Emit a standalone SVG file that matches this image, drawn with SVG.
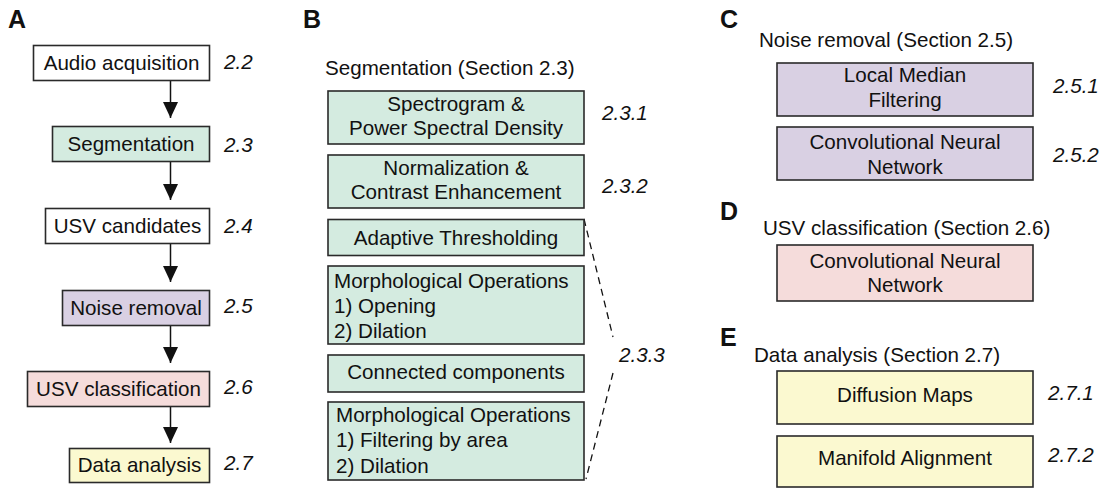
<svg xmlns="http://www.w3.org/2000/svg" width="1103" height="489" viewBox="0 0 1103 489">
  <style>
    text { font-family: "Liberation Sans", Arial, sans-serif; fill: #111; }
    .panel { font-size: 25px; font-weight: bold; }
    .lbl { font-size: 20.6px; }
    .mid { text-anchor: middle; }
    .sec { font-size: 20.6px; font-style: italic; }
    .box { stroke: #2a2a2a; stroke-width: 1.6; }
    .white { fill: #ffffff; }
    .green { fill: #d4ebe0; }
    .purple { fill: #d9d0e3; }
    .pink { fill: #f5dcdb; }
    .yellow { fill: #fbf9d0; }
    .flow { stroke: #111; stroke-width: 1.5; fill: none; }
    .dash { stroke: #111; stroke-width: 1.3; stroke-dasharray: 7 5; fill: none; }
  </style>
  <defs>
    <marker id="arrow" viewBox="0 0 16 15" refX="16" refY="7.5" markerWidth="16" markerHeight="15" markerUnits="userSpaceOnUse" orient="auto">
      <path d="M0,0 L16,7.5 L0,15 Z" fill="#111"/>
    </marker>
  </defs>

  <rect width="1103" height="489" fill="#ffffff"/>

  <!-- Panel labels -->
  <text class="panel" x="8" y="28">A</text>
  <text class="panel" x="303" y="28">B</text>
  <text class="panel" x="720" y="28">C</text>
  <text class="panel" x="720" y="220">D</text>
  <text class="panel" x="720" y="346">E</text>

  <!-- Panel A: pipeline overview -->
  <g id="connectors">
    <line class="flow" x1="170.5" y1="80" x2="170.5" y2="118" marker-end="url(#arrow)"/>
    <line class="flow" x1="170.5" y1="161" x2="170.5" y2="200" marker-end="url(#arrow)"/>
    <line class="flow" x1="170.5" y1="244" x2="170.5" y2="282" marker-end="url(#arrow)"/>
    <line class="flow" x1="170.5" y1="325" x2="170.5" y2="363" marker-end="url(#arrow)"/>
    <line class="flow" x1="170.5" y1="406" x2="170.5" y2="443" marker-end="url(#arrow)"/>
    <!-- bracket for 2.3.3 -->
    <polyline class="dash" points="584,219 613,337"/>
    <polyline class="dash" points="613,373 586,479"/>
  </g>

  <g id="a-audio">
    <rect class="box white" x="33.5" y="45.5" width="176" height="35"/>
    <text class="lbl mid" x="121.5" y="70">Audio acquisition</text>
    <text class="sec" x="224" y="69">2.2</text>
  </g>
  <g id="a-segmentation">
    <rect class="box green" x="52.5" y="126.5" width="157" height="35"/>
    <text class="lbl mid" x="131" y="151">Segmentation</text>
    <text class="sec" x="224" y="152">2.3</text>
  </g>
  <g id="a-candidates">
    <rect class="box white" x="45.5" y="208.5" width="164" height="35"/>
    <text class="lbl mid" x="127.5" y="233">USV candidates</text>
    <text class="sec" x="224" y="233">2.4</text>
  </g>
  <g id="a-noise">
    <rect class="box purple" x="62.5" y="290.5" width="147" height="35"/>
    <text class="lbl mid" x="136" y="315">Noise removal</text>
    <text class="sec" x="224" y="313">2.5</text>
  </g>
  <g id="a-classification">
    <rect class="box pink" x="27.5" y="371.5" width="182" height="35"/>
    <text class="lbl mid" x="118.5" y="396">USV classification</text>
    <text class="sec" x="224" y="394">2.6</text>
  </g>
  <g id="a-analysis">
    <rect class="box yellow" x="69.5" y="448.5" width="140" height="34"/>
    <text class="lbl mid" x="139.5" y="472">Data analysis</text>
    <text class="sec" x="224" y="470">2.7</text>
  </g>

  <!-- Panel B: segmentation steps -->
  <text class="lbl" x="325" y="75">Segmentation (Section 2.3)</text>
  <g id="b-spectrogram">
    <rect class="box green" x="328" y="91" width="256" height="53"/>
    <text class="lbl mid" x="456" y="111">Spectrogram &amp;</text>
    <text class="lbl mid" x="456" y="135">Power Spectral Density</text>
    <text class="sec" x="602" y="120">2.3.1</text>
  </g>
  <g id="b-normalization">
    <rect class="box green" x="328" y="155" width="256" height="53"/>
    <text class="lbl mid" x="456" y="175">Normalization &amp;</text>
    <text class="lbl mid" x="456" y="199">Contrast Enhancement</text>
    <text class="sec" x="602" y="193">2.3.2</text>
  </g>
  <g id="b-threshold">
    <rect class="box green" x="328" y="219.5" width="256" height="36"/>
    <text class="lbl mid" x="456" y="245">Adaptive Thresholding</text>
  </g>
  <g id="b-morph1">
    <rect class="box green" x="328" y="266" width="256" height="78"/>
    <text class="lbl" x="334" y="288">Morphological Operations</text>
    <text class="lbl" x="334" y="313">1) Opening</text>
    <text class="lbl" x="334" y="338">2) Dilation</text>
  </g>
  <g id="b-components">
    <rect class="box green" x="328" y="355" width="256" height="37"/>
    <text class="lbl mid" x="456" y="379">Connected components</text>
  </g>
  <g id="b-morph2">
    <rect class="box green" x="328" y="402" width="256" height="78"/>
    <text class="lbl" x="336" y="422">Morphological Operations</text>
    <text class="lbl" x="336" y="447">1) Filtering by area</text>
    <text class="lbl" x="336" y="473">2) Dilation</text>
  </g>
  <text class="sec" x="619" y="362">2.3.3</text>

  <!-- Panel C: noise removal -->
  <text class="lbl" x="759" y="47">Noise removal (Section 2.5)</text>
  <g id="c-median">
    <rect class="box purple" x="777" y="63" width="256" height="53"/>
    <text class="lbl mid" x="905" y="82">Local Median</text>
    <text class="lbl mid" x="905" y="107">Filtering</text>
    <text class="sec" x="1053" y="93">2.5.1</text>
  </g>
  <g id="c-cnn">
    <rect class="box purple" x="777" y="127" width="256" height="53"/>
    <text class="lbl mid" x="905" y="149">Convolutional Neural</text>
    <text class="lbl mid" x="905" y="174">Network</text>
    <text class="sec" x="1053" y="162">2.5.2</text>
  </g>

  <!-- Panel D: USV classification -->
  <text class="lbl" x="763" y="235">USV classification (Section 2.6)</text>
  <g id="d-cnn">
    <rect class="box pink" x="777" y="245" width="256" height="56"/>
    <text class="lbl mid" x="905" y="268">Convolutional Neural</text>
    <text class="lbl mid" x="905" y="292">Network</text>
  </g>

  <!-- Panel E: data analysis -->
  <text class="lbl" x="754" y="362">Data analysis (Section 2.7)</text>
  <g id="e-diffusion">
    <rect class="box yellow" x="777" y="371" width="256" height="53"/>
    <text class="lbl mid" x="905" y="402">Diffusion Maps</text>
    <text class="sec" x="1048" y="400">2.7.1</text>
  </g>
  <g id="e-manifold">
    <rect class="box yellow" x="777" y="436" width="256" height="51"/>
    <text class="lbl mid" x="905" y="465">Manifold Alignment</text>
    <text class="sec" x="1048" y="462">2.7.2</text>
  </g>
</svg>
